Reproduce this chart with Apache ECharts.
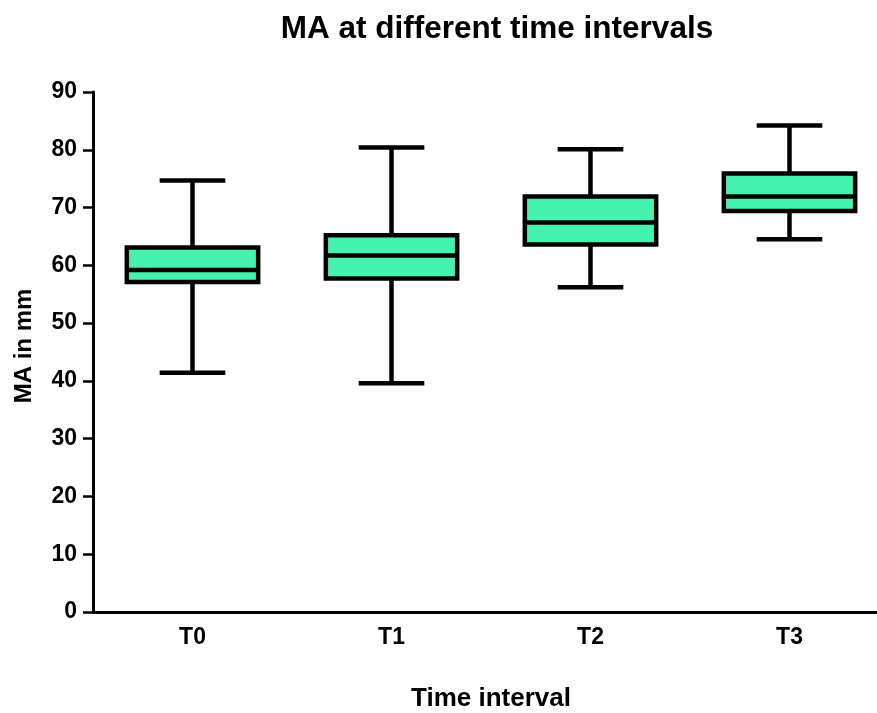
<!DOCTYPE html>
<html>
<head>
<meta charset="utf-8">
<script src="https://cdn.jsdelivr.net/npm/echarts@6/dist/echarts.min.js"></script>
<style>
  html, body { margin: 0; padding: 0; background: #fff; }
  #chart { width: 877px; height: 713px; }
</style>
</head>
<body>
<div id="chart"></div>
<script>
// data
var categories = ['T0', 'T1', 'T2', 'T3'];
var minVals = [41.4, 39.6, 56.2, 64.5];
var q1Vals = [57.1, 57.7, 63.6, 69.4];
var medianVals = [59.2, 61.7, 67.4, 71.9];
var q3Vals = [63.1, 65.2, 71.9, 75.9];
var maxVals = [74.7, 80.4, 80.1, 84.2];

var rows = categories.map(function (c, i) {
    return [i, minVals[i], q1Vals[i], medianVals[i], q3Vals[i], maxVals[i]];
});

var font = 'Liberation Sans, Arial, sans-serif';

function renderBox(params, api) {
    var x = api.value(0);
    var pMin = api.coord([x, api.value(1)]);
    var pQ1 = api.coord([x, api.value(2)]);
    var pMed = api.coord([x, api.value(3)]);
    var pQ3 = api.coord([x, api.value(4)]);
    var pMax = api.coord([x, api.value(5)]);
    var band = api.size([1, 0])[0];
    var w = band * 0.66;
    var cap = w / 2;
    var cx = pMed[0];
    var line = { stroke: '#000', lineWidth: 4.5 };
    return {
        type: 'group',
        children: [
            { type: 'line', shape: { x1: cx, y1: pMax[1], x2: cx, y2: pQ3[1] }, style: line },
            { type: 'line', shape: { x1: cx, y1: pQ1[1], x2: cx, y2: pMin[1] }, style: line },
            { type: 'line', shape: { x1: cx - cap / 2, y1: pMax[1], x2: cx + cap / 2, y2: pMax[1] }, style: line },
            { type: 'line', shape: { x1: cx - cap / 2, y1: pMin[1], x2: cx + cap / 2, y2: pMin[1] }, style: line },
            {
                type: 'rect',
                shape: { x: cx - w / 2, y: pQ3[1], width: w, height: pQ1[1] - pQ3[1] },
                style: { fill: '#45F2B0', stroke: '#000', lineWidth: 4.5 }
            },
            { type: 'line', shape: { x1: cx - w / 2, y1: pMed[1], x2: cx + w / 2, y2: pMed[1] }, style: line }
        ]
    };
}

var chart = echarts.init(document.getElementById('chart'));
chart.setOption({
    backgroundColor: '#fff',
    animation: false,
    title: {
        text: 'MA at different time intervals',
        left: 492,
        textAlign: 'center',
        top: 8,
        textStyle: { fontFamily: font, fontSize: 31.5, fontWeight: 'bold', color: '#000' }
    },
    grid: { left: 93, top: 92, bottom: 101, width: 796, containLabel: false, outerBoundsMode: 'none' },
    xAxis: {
        type: 'category',
        data: categories,
        name: 'Time interval',
        nameLocation: 'middle',
        nameGap: 74,
        nameTextStyle: { fontFamily: font, fontSize: 26, fontWeight: 'bold', color: '#000' },
        axisLine: { lineStyle: { color: '#000', width: 3 } },
        axisTick: { alignWithLabel: true, length: 10, lineStyle: { color: '#000', width: 2.5 } },
        axisLabel: { fontFamily: font, fontSize: 23, fontWeight: 'bold', color: '#000', margin: 14 },
        splitLine: { show: false }
    },
    yAxis: {
        type: 'value',
        min: 0,
        max: 90,
        interval: 10,
        name: 'MA in mm',
        nameLocation: 'middle',
        nameGap: 57,
        nameRotate: 90,
        nameTextStyle: { fontFamily: font, fontSize: 24, fontWeight: 'bold', color: '#000', padding: [0, 0, 0, 12] },
        axisLine: { show: true, lineStyle: { color: '#000', width: 3 } },
        axisTick: { show: true, length: 10, lineStyle: { color: '#000', width: 2.5 } },
        axisLabel: { fontFamily: font, fontSize: 23, fontWeight: 'bold', color: '#000', margin: 16 },
        splitLine: { show: false }
    },
    series: [{
        type: 'custom',
        renderItem: renderBox,
        encode: { x: 0, y: [1, 2, 3, 4, 5] },
        data: rows
    }]
});
</script>
</body>
</html>
